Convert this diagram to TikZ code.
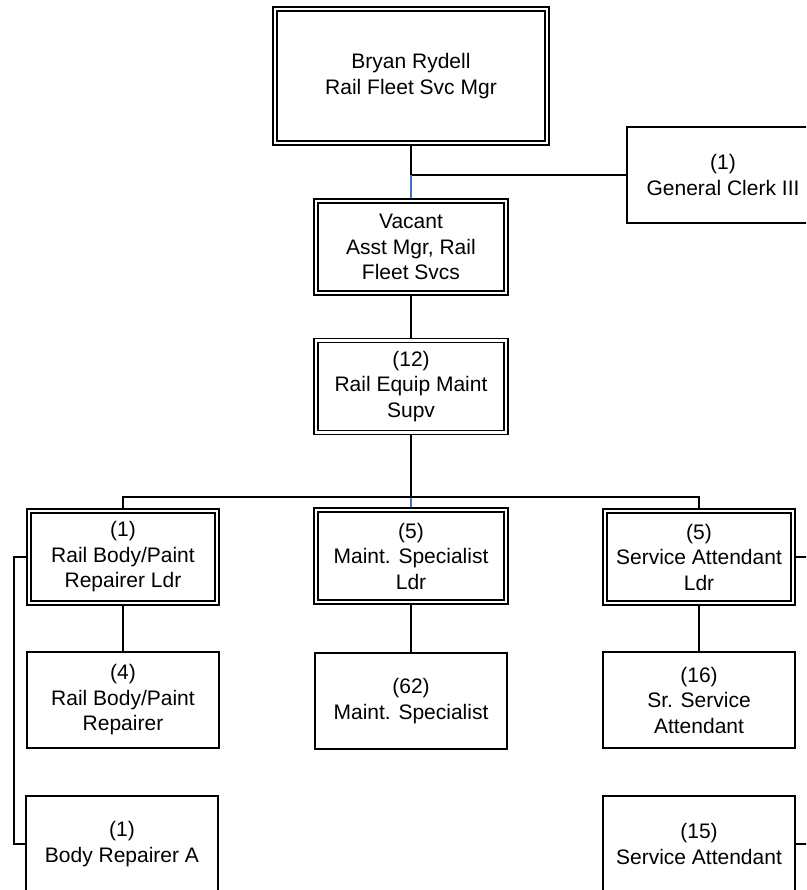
\documentclass[tikz,border=0pt]{standalone}
\usepackage{fontspec}
\setmainfont{Liberation Sans}
\definecolor{linkblue}{RGB}{68,114,196}
\begin{document}
\begin{tikzpicture}[x=1pt,y=-1pt,
  every node/.style={font=\fontsize{21}{25.5}\selectfont, align=center, inner sep=0pt},
  single/.style={draw, line width=1.5pt, minimum width=192pt, minimum height=96pt},
  dbl/.style={draw, line width=1.5pt, double, double distance=2.7pt,
    minimum width=#1-4.2pt, minimum height=96pt-4.2pt, outer sep=2.85pt},
  dbl/.default=192pt,
  conn/.style={line width=1.5pt},
  blueconn/.style={line width=1.5pt, draw=linkblue}]
\useasboundingbox (0,0) rectangle (806,890);
\clip (0,0) rectangle (806,890);

% boxes
\node[dbl=276pt, minimum height=133.8pt] (top) at (411,76) {Bryan Rydell\\Rail Fleet Svc Mgr};
\node[single] (clerk) at (723,175) {(1)\\General Clerk III};
\node[dbl=194pt] (vac) at (411,247) {Vacant\\Asst Mgr, Rail\\Fleet Svcs};
\node[dbl=194pt] (sup) at (411,386.5) {(12)\\Rail Equip Maint\\Supv};
\node[dbl] (ldrL) at (123,557) {(1)\\Rail Body/Paint\\Repairer Ldr};
\node[dbl=194pt] (ldrM) at (411,556) {(5)\\Maint. Specialist\\Ldr};
\node[dbl] (ldrR) at (699,557) {(5)\\Service Attendant\\Ldr};
\node[single] (rep) at (123,700) {(4)\\Rail Body/Paint\\Repairer};
\node[single] (spec) at (411,701) {(62)\\Maint. Specialist};
\node[single] (srsa) at (699,700) {(16)\\Sr. Service\\Attendant};
\node[single] (bra) at (122,844) {(1)\\Body Repairer A};
\node[single] (sa) at (699,844) {(15)\\Service Attendant};

% junctions
\coordinate (j1) at (top.south |- clerk.west);
\coordinate (j2) at (411,497);
\coordinate (lbar) at (14,700);
\coordinate (rbar) at (808,700);

% connectors
\draw[conn] (top.south) -- (j1) -- (clerk.west);
\draw[blueconn] (j1) -- (vac.north);
\draw[conn] (vac.south) -- (sup.north);
\draw[conn] (sup.south) -- (j2);
\draw[blueconn] (j2) -- (ldrM.north);
\draw[conn] (ldrL.north) -- (ldrL.north |- j2) -- (ldrR.north |- j2) -- (ldrR.north);
\draw[conn] (ldrL.south) -- (rep.north);
\draw[conn] (ldrM.south) -- (spec.north);
\draw[conn] (ldrR.south) -- (srsa.north);
\draw[conn] (ldrL.west) -| (lbar) |- (bra.west);
\draw[conn] (ldrR.east) -| (rbar) |- (sa.east);
\end{tikzpicture}
\end{document}
